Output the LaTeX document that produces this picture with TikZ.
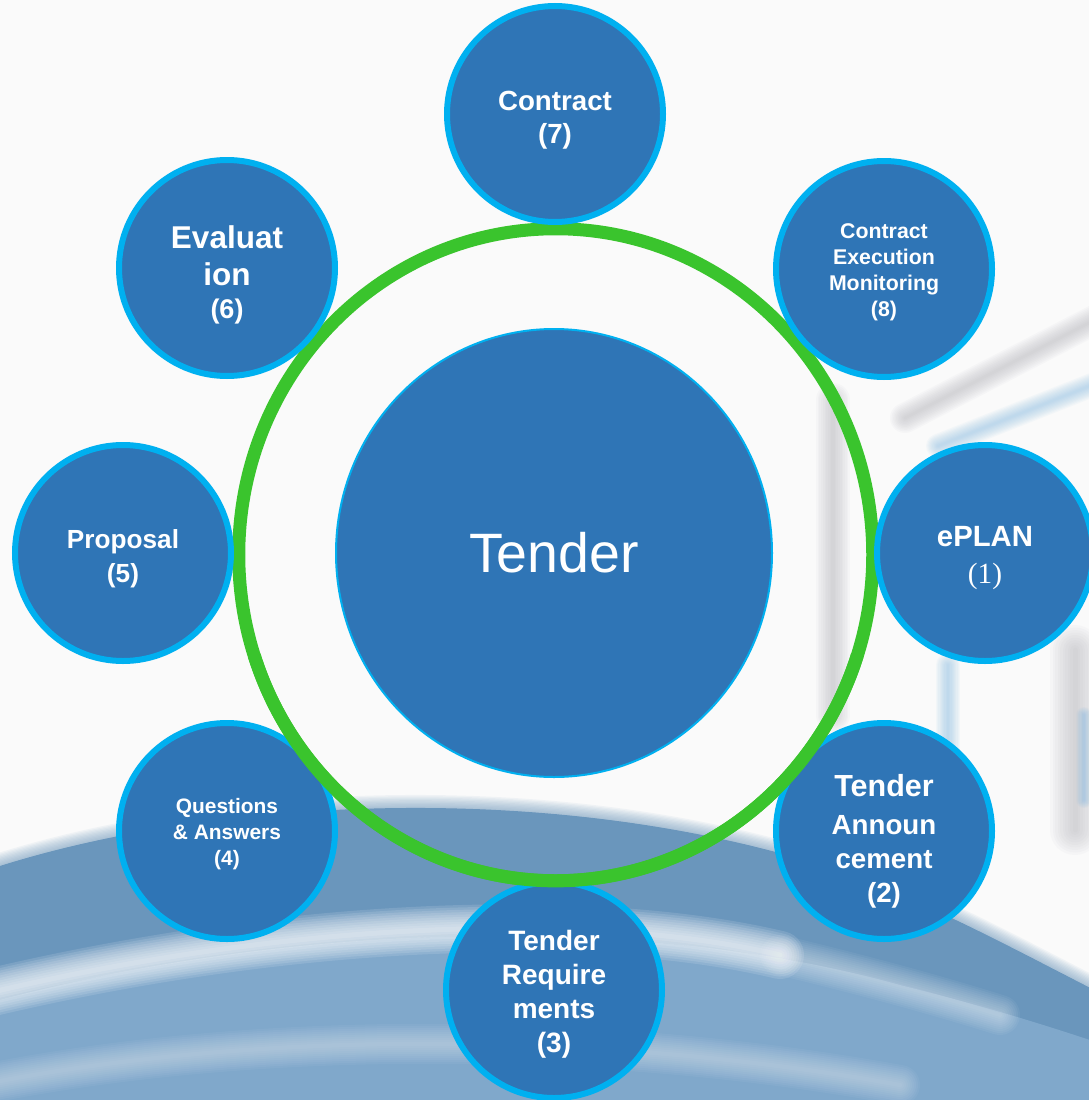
\documentclass[tikz,border=0pt]{standalone}
\usepackage{fontspec}
\setmainfont{Liberation Sans}
\newfontfamily\serifnum{Liberation Serif}
\usetikzlibrary{shapes.geometric}
\definecolor{bubfill}{RGB}{47,117,182}
\definecolor{bubline}{RGB}{0,176,240}
\definecolor{ringgreen}{RGB}{58,196,45}
\definecolor{bandA}{RGB}{106,150,188}
\definecolor{bandB}{RGB}{128,168,203}
\definecolor{bgwhite}{RGB}{250,250,250}
\definecolor{shadowgray}{RGB}{175,175,182}
\definecolor{paleblue}{RGB}{130,185,225}
\newcommand\fsz[2]{\fontsize{#1}{#2}\selectfont}
% soft (blurred-looking) stroke: colour, width, opacity per layer, path
\newcommand\softline[4]{%
  \foreach \i in {1,...,10}{\draw[#1, line width={\i*#2/10*1pt}, opacity=#3, line cap=round] #4;}}
\begin{document}
\begin{tikzpicture}[x=1pt,y=1pt,
  bubble/.style={circle, draw=bubline, line width=6pt, fill=bubfill,
    minimum size=216pt, inner sep=0pt},
  bubtext/.style={text=white, align=center, inner sep=0pt, font=\bfseries},
  hub/.style={ellipse, draw=bubline, line width=2pt, fill=bubfill,
    minimum width=436pt, minimum height=448pt, inner sep=0pt, text=white},
  ringstyle/.style={draw=ringgreen, line width=13pt},
]
% canvas
\fill[bgwhite] (0,0) rectangle (1089,-1100);
\useasboundingbox (0,0) rectangle (1089,-1100);

% ---- background: blurred swooshes ----
\begin{scope}
\clip (0,0) rectangle (1089,-1100);
\fill[bandA] (0,-866) .. controls (200,-803) and (500,-783) .. (760,-848)
  .. controls (900,-883) and (1000,-943) .. (1120,-1003) -- (1120,-1120) -- (0,-1120) -- cycle;
\softline{bandA}{26}{0.07}{(0,-866) .. controls (200,-803) and (500,-783) .. (760,-848)
  .. controls (900,-883) and (1000,-943) .. (1120,-1003)}
\fill[bandB] (0,-1000) .. controls (300,-920) and (650,-915) .. (900,-985)
  .. controls (1000,-1010) and (1060,-1030) .. (1120,-1050) -- (1120,-1120) -- (0,-1120) -- cycle;
\softline{white}{48}{0.12}{(-20,-995) .. controls (300,-918) and (600,-912) .. (780,-955)}
\softline{white}{40}{0.05}{(780,-955) .. controls (850,-972) and (920,-990) .. (1000,-1015)}
\softline{white}{40}{0.045}{(-20,-1085) .. controls (250,-1030) and (600,-1030) .. (900,-1085)}
% right-hand blurred logo
\softline{shadowgray}{34}{0.06}{(833,-400) -- (833,-715)}
\softline{shadowgray}{30}{0.06}{(905,-418) -- (1110,-312)}
\softline{paleblue}{24}{0.06}{(938,-446) -- (1110,-378)}
\softline{paleblue}{24}{0.06}{(948,-665) -- (948,-805)}
\softline{shadowgray}{50}{0.06}{(1075,-650) -- (1075,-830)}
\softline{paleblue}{16}{0.06}{(1084,-715) -- (1084,-800)}
\end{scope}

% ---- ring ----
\coordinate (ringc) at (555.75,-554.75);
\draw[ringstyle] (ringc) ellipse [x radius=317, y radius=326];

% ---- outer bubbles ----
\node[bubble] (n7) at (555,-114) {};
\node[bubble] (n6) at (227,-268) {};
\node[bubble] (n8) at (884,-269) {};
\node[bubble] (n1) at (985,-553) {};
\node[bubble] (n5) at (123,-553) {};
\node[bubble] (n4) at (227,-831) {};
\node[bubble] (n2) at (884,-831) {};
\node[bubble] (n3) at (554,-990) {};

\node[bubtext, font=\bfseries\fsz{27.7}{33}] (t7) at ([yshift=-6.5]n7.center) {Contract\\(7)};
\node[bubtext, font=\bfseries\fsz{31.5}{37}] (t6) at ([yshift=-7]n6.center) {Evaluat\\ion\\[-4pt]{\fsz{27}{32}(6)}};
\node[bubtext, font=\bfseries\fsz{21.3}{26}] (t8) at ([yshift=-3]n8.center) {Contract\\Execution\\Monitoring\\(8)};
\node[bubtext, font=\bfseries\fsz{29.3}{37}] (t1) at ([yshift=-5]n1.center) {ePLAN\\{\serifnum\mdseries (1)}};
\node[bubtext, font=\bfseries\fsz{26.2}{34}] (t5) at ([yshift=-6]n5.center) {Proposal\\(5)};
\node[bubtext, font=\bfseries\fsz{20.9}{26}] (t4) at ([yshift=-3]n4.center) {Questions\\\& Answers\\(4)};
\node[bubtext, font=\bfseries\fsz{27.7}{34}] (t2) at ([yshift=-10]n2.center) {{\fsz{30.5}{34}Tender}\\[4pt]Announ\\cement\\(2)};
\node[bubtext, font=\bfseries\fsz{28}{34}] (t3) at ([yshift=-4]n3.center) {Tender\\Require\\ments\\(3)};

% lower part of the ring lies over the lower bubbles
\draw[ringstyle] ([shift={(198:317 and 326)}]ringc) arc[start angle=198, end angle=342, x radius=317, y radius=326];

% ---- hub ----
\node[hub, font=\fsz{55.5}{66}] (hub) at (554,-553) {Tender};
\end{tikzpicture}
\end{document}
